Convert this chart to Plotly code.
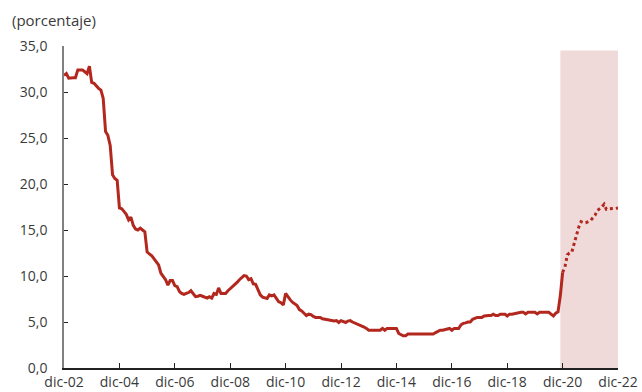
import pandas as pd
import plotly.graph_objects as go

# Monthly series, December 2002 onwards (percent)
observed = [
    31.8, 32.0, 31.5, 31.55, 31.55, 31.55, 32.4, 32.4, 32.4, 32.2,
    32.0, 32.8, 31.05, 30.95, 30.6, 30.4, 30.2, 29.3, 25.7, 25.3,
    24.2, 21.0, 20.6, 20.4, 17.4, 17.3, 17.0, 16.7, 16.1, 16.4,
    15.5, 15.1, 15.0, 15.2, 15.0, 14.8, 12.6, 12.4, 12.2, 11.9,
    11.6, 11.2, 10.3, 10.0, 9.6, 9.0, 9.5, 9.5, 8.95, 8.85,
    8.3, 8.1, 8.0, 8.1, 8.2, 8.4, 8.0, 7.75, 7.8, 7.9,
    7.8, 7.7, 7.6, 7.75, 7.6, 8.1, 8.0, 8.7, 8.1, 8.1,
    8.1, 8.4, 8.6, 8.9, 9.1, 9.3, 9.6, 9.8, 10.05, 10.0,
    9.6, 9.7, 9.15, 9.1, 8.5, 7.95, 7.7, 7.6, 7.55, 7.95,
    7.85, 7.95, 7.6, 7.2, 7.1, 6.85, 8.1, 7.7, 7.4, 7.15,
    6.95, 6.8, 6.35, 6.2, 5.95, 5.7, 5.85, 5.8, 5.6, 5.5,
    5.5, 5.5, 5.35, 5.3, 5.3, 5.25, 5.2, 5.1, 5.15, 4.95,
    5.15, 5.05, 4.95, 5.1, 5.15, 5.0, 4.9, 4.8, 4.7, 4.55,
    4.45, 4.3, 4.1, 4.1, 4.1, 4.1, 4.1, 4.1, 4.3, 4.1,
    4.3, 4.3, 4.3, 4.3, 4.3, 3.75, 3.65, 3.5, 3.5, 3.7,
    3.7, 3.7, 3.7, 3.7, 3.7, 3.7, 3.7, 3.7, 3.7, 3.7,
    3.7, 3.85, 3.95, 4.1, 4.1, 4.15, 4.2, 4.3, 4.1, 4.3,
    4.3, 4.3, 4.7, 4.85, 4.9, 5.0, 5.0, 5.3, 5.4, 5.5,
    5.5, 5.5, 5.65, 5.7, 5.7, 5.7, 5.85, 5.7, 5.7, 5.85,
    5.85, 5.85, 5.65, 5.85, 5.85, 5.9, 5.95, 6.05, 6.05, 6.05,
    5.87, 6.05, 6.05, 6.05, 6.05, 5.87, 6.05, 6.05, 6.05, 6.05,
    6.05, 5.85, 5.65, 5.95, 6.1, 7.9, 10.4,
]

# Projection, December 2020 to December 2022 (first value joins the observed line)
projected = [
    10.4, 11.0, 12.3, 12.5, 12.6, 13.6, 14.4, 15.3, 15.9, 15.8,
    15.8, 15.9, 16.0, 16.3, 16.6, 17.1, 17.3, 17.5, 17.8, 17.25,
    17.3, 17.3, 17.3, 17.35, 17.4,
]

tick_years = list(range(2002, 2023, 2))
tick_labels = [f"dic-{y % 100:02d}" for y in tick_years]
y_ticks = [0, 5, 10, 15, 20, 25, 30, 35]
y_labels = [f"{v:.1f}".replace(".", ",") for v in y_ticks]

shade_start = "2020-11-01"
shade_end = "2022-12-01"
shade_top = 34.5

obs_dates = pd.date_range("2002-12-01", periods=len(observed), freq="MS")
proj_dates = pd.date_range(obs_dates[-1], periods=len(projected), freq="MS")

RED = "#B3281E"
TEXT = "#3a3a3a"
FONT = "Open Sans"

fig = go.Figure()

fig.add_shape(
    type="rect", xref="x", yref="y",
    x0=shade_start, x1=shade_end, y0=0, y1=shade_top,
    fillcolor="#EFD9D9", line_width=0, layer="below",
)

fig.add_trace(go.Scatter(
    x=obs_dates, y=observed, mode="lines",
    line=dict(color=RED, width=3), showlegend=False,
))
fig.add_trace(go.Scatter(
    x=proj_dates, y=projected, mode="lines",
    line=dict(color=RED, width=3, dash="dot"), showlegend=False,
))

fig.add_annotation(
    text="(porcentaje)", xref="paper", yref="paper",
    x=-0.098, y=1.08, xanchor="left", yanchor="middle",
    showarrow=False, font=dict(family=FONT, size=15, color=TEXT),
)

fig.update_layout(
    width=642, height=392,
    margin=dict(l=64, r=24, t=46, b=24),
    paper_bgcolor="white", plot_bgcolor="white",
    font=dict(family=FONT, size=14, color=TEXT),
)

fig.update_xaxes(
    range=["2002-12-01", "2022-12-01"],
    tickvals=[f"{y}-12-01" for y in tick_years], ticktext=tick_labels,
    ticks="inside", ticklen=5, tickcolor="#222", tickwidth=1.2,
    showline=True, linecolor="#222", linewidth=1.5,
    showgrid=False, zeroline=False, automargin=False,
    ticklabelstandoff=0,
)
fig.update_yaxes(
    range=[0, 35],
    tickvals=y_ticks, ticktext=y_labels,
    ticks="inside", ticklen=4, tickcolor="#222", tickwidth=1.2,
    showline=True, linecolor="#808080", linewidth=1.5,
    showgrid=False, zeroline=False, ticklabelstandoff=12,
    automargin=False,
)

fig.write_html("out.html")
